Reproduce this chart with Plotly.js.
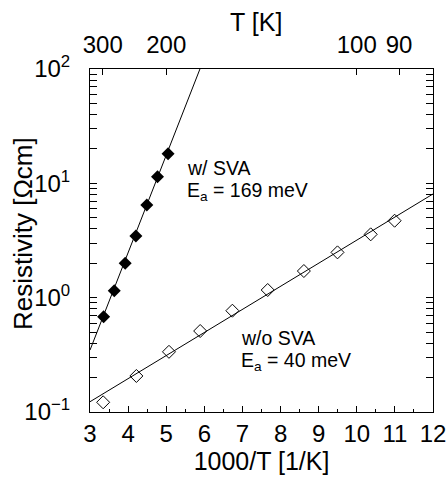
<!DOCTYPE html>
<html>
<head>
<meta charset="utf-8">
<script src="https://cdn.plot.ly/plotly-3.0.1.min.js"></script>
<style>html,body{margin:0;padding:0;background:#fff;}#chart{width:448px;height:479px;}</style>
</head>
<body>
<div id="chart"></div>
<script>
// ---- data ----
// w/ SVA (filled diamonds)
const svaX = [3.358, 3.636, 3.924, 4.204, 4.491, 4.771, 5.049];
const svaY = [0.68, 1.15, 2.0, 3.46, 6.46, 11.4, 18.1];
// w/o SVA (open diamonds)
const noSvaX = [3.345, 4.217, 5.072, 5.891, 6.736, 7.663, 8.612, 9.494, 10.365, 10.993];
const noSvaY = [0.1216, 0.2066, 0.336, 0.511, 0.769, 1.167, 1.71, 2.49, 3.58, 4.71];
// Arrhenius fit lines (end points)
const svaFitX = [3, 5.885];
const svaFitY = [0.348, 100];
const noSvaFitX = [3, 12];
const noSvaFitY = [0.123, 8.07];
// top axis temperatures
const topT = [300, 200, 100, 90];
// left axis decades
const yDecades = [-1, 0, 1, 2];
const yDecadeLabels = ['10<sup>−1</sup>', '10<sup>0</sup>', '10<sup>1</sup>', '10<sup>2</sup>'];
// labels
const labelSva = ['w/ SVA', 'E<sub>a</sub> = 169 meV'];
const labelNoSva = ['w/o SVA', 'E<sub>a</sub> = 40 meV'];

const FONT = 'Liberation Sans, Arial, Helvetica, sans-serif';

const minorY = [];
for (let d = -1; d < 2; d++) for (let m = 2; m <= 9; m++) minorY.push(m * Math.pow(10, d));

const traces = [
  {x: svaFitX, y: svaFitY, mode: 'lines', line: {color: '#000', width: 1}, hoverinfo: 'skip', showlegend: false},
  {x: noSvaFitX, y: noSvaFitY, mode: 'lines', line: {color: '#000', width: 1}, hoverinfo: 'skip', showlegend: false},
  {x: svaX, y: svaY, mode: 'markers', marker: {symbol: 'diamond', size: 10, color: '#000', line: {width: 0}}, showlegend: false},
  {x: noSvaX, y: noSvaY, mode: 'markers', marker: {symbol: 'diamond-open', size: 10, color: '#000', line: {width: 1, color: '#000'}}, showlegend: false},
  {x: [], y: [], xaxis: 'x2', yaxis: 'y', mode: 'markers', hoverinfo: 'skip', showlegend: false}
];

const annFont = {size: 19.5, family: FONT, color: '#000'};
const layout = {
  width: 448, height: 479,
  margin: {l: 90, r: 15, t: 69, b: 67},
  paper_bgcolor: '#fff', plot_bgcolor: '#fff',
  font: {family: FONT, color: '#000', size: 24},
  showlegend: false,
  xaxis: {
    range: [3, 12], dtick: 1, tick0: 3,
    ticks: 'inside', ticklen: 6, tickwidth: 1, tickcolor: '#000',
    minor: {dtick: 0.5, ticks: 'inside', ticklen: 3, tickcolor: '#000'},
    showline: true, linecolor: '#000', linewidth: 1, mirror: true,
    showgrid: false, zeroline: false,
    tickfont: {size: 24},
    title: {text: '1000/T [1/K]', font: {size: 25}, standoff: 6}
  },
  xaxis2: {
    overlaying: 'x', side: 'top', anchor: 'y',
    range: [3, 12],
    tickmode: 'array', tickvals: topT.map(t => 1000 / t), ticktext: topT.map(String),
    ticks: 'inside', ticklen: 6, tickwidth: 1, tickcolor: '#000',
    showline: false, showgrid: false, zeroline: false,
    tickfont: {size: 24},
    ticklabelstandoff: 10
  },
  yaxis: {
    type: 'log', range: [-1, 2],
    tickmode: 'array', tickvals: yDecades.map(d => Math.pow(10, d)), ticktext: yDecadeLabels,
    ticks: 'inside', ticklen: 7, tickwidth: 1, tickcolor: '#000',
    minor: {tickmode: 'array', tickvals: minorY, ticks: 'inside', ticklen: 4, tickcolor: '#000'},
    showline: true, linecolor: '#000', linewidth: 1, mirror: 'allticks',
    showgrid: false, zeroline: false,
    tickfont: {size: 24},
    ticklabelstandoff: 14
  },
  annotations: [
    {x: 0.484, y: 1.138, xref: 'paper', yref: 'paper', xanchor: 'center', yanchor: 'middle', showarrow: false,
     text: 'T [K]', font: {size: 25, family: FONT, color: '#000'}},
    {x: -0.197, y: 0.52, xref: 'paper', yref: 'paper', xanchor: 'center', yanchor: 'middle', showarrow: false,
     textangle: -90, text: 'Resistivity [Ωcm]', font: {size: 26, family: FONT, color: '#000'}},
    {x: 5.50, y: 1.1385, xref: 'x', yref: 'y', xanchor: 'left', yanchor: 'middle', align: 'left', showarrow: false,
     text: labelSva[0], font: annFont},
    {x: 5.50, y: 0.93, xref: 'x', yref: 'y', xanchor: 'left', yanchor: 'middle', align: 'left', showarrow: false,
     text: labelSva[1], font: annFont},
    {x: 6.90, y: -0.353, xref: 'x', yref: 'y', xanchor: 'left', yanchor: 'middle', align: 'left', showarrow: false,
     text: labelNoSva[0], font: annFont},
    {x: 6.90, y: -0.56, xref: 'x', yref: 'y', xanchor: 'left', yanchor: 'middle', align: 'left', showarrow: false,
     text: labelNoSva[1], font: annFont}
  ]
};

Plotly.newPlot('chart', traces, layout, {displayModeBar: false, staticPlot: true});
</script>
</body>
</html>
